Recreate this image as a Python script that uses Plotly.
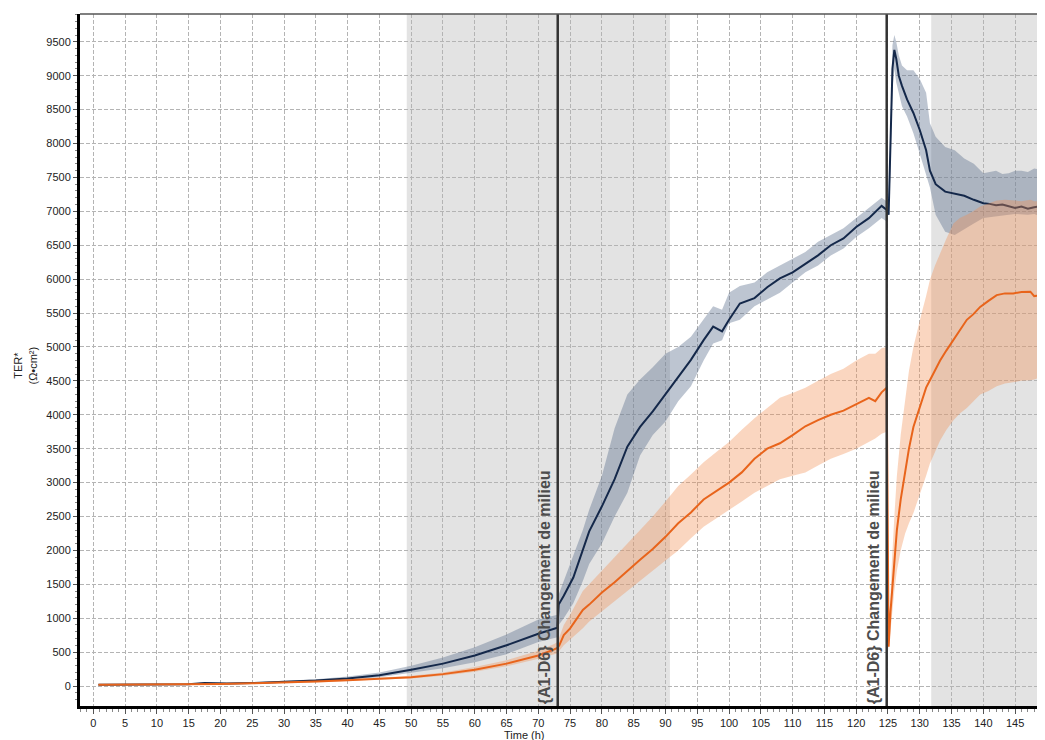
import plotly.graph_objects as go

# ---------------- data ----------------
# Navy series, before second medium change
blue_t1 = [0.8, 5, 10, 15, 17.5, 21, 25, 30, 35, 40, 45, 50, 55, 60, 65, 70, 73.0, 73.2, 74, 75.5, 77, 78, 80, 82,
           84, 86, 88, 90, 92, 94, 96, 97.5, 98.9, 100, 101.7, 104, 106, 108, 110, 112, 114, 116, 118, 120, 122,
           124, 124.8]
blue_m1 = [20, 20, 20, 25, 45, 35, 45, 60, 80, 110, 160, 240, 330, 450, 600, 770, 860, 1200, 1330, 1600, 2000,
           2280, 2650, 3050, 3530, 3820, 4050, 4300, 4560, 4810, 5100, 5300, 5230, 5400, 5640, 5720, 5880, 6010,
           6100, 6230, 6350, 6500, 6600, 6770, 6900, 7080, 7020]
blue_lo1 = [15, 15, 15, 18, 30, 30, 38, 50, 68, 90, 130, 190, 260, 350, 470, 650, 720, 900, 1000, 1220, 1550,
            1800, 2100, 2500, 2850, 3400, 3700, 3900, 4200, 4420, 4800, 5050, 5100, 5350, 5400, 5600, 5700, 5800,
            5950, 6100, 6200, 6350, 6450, 6620, 6750, 6900, 6850]
blue_hi1 = [25, 25, 25, 32, 55, 48, 55, 75, 100, 140, 200, 300, 420, 570, 760, 980, 1050, 1350, 1550, 1900, 2300,
            2600, 3100, 3800, 4300, 4520, 4700, 4900, 5000, 5150, 5400, 5600, 5550, 5800, 5900, 5950, 6100, 6200,
            6300, 6400, 6550, 6650, 6750, 6900, 7050, 7200, 7150]

# Navy series, after second medium change
blue_t2 = [125.1, 125.4, 125.7, 126.0, 126.3, 126.7, 127.2, 128.0, 129.0, 130.0, 131.0, 131.6, 132.5, 134.0,
           135.5, 137.0, 138.5, 140.0, 141.0, 142.0, 143.0, 144.0, 145.0, 146.0, 147.0, 148.0, 149.0, 149.7]
blue_m2 = [6950, 8000, 9100, 9380, 9250, 9000, 8850, 8650, 8450, 8200, 7900, 7600, 7400, 7290, 7260, 7230, 7170,
           7120, 7110, 7090, 7100, 7070, 7050, 7070, 7040, 7060, 7080, 7050]
blue_lo2 = [6900, 7600, 8800, 9100, 8900, 8750, 8550, 8400, 8150, 7850, 7550, 7350, 6950, 6700, 6650, 6740, 6820,
            6900, 6920, 6930, 6940, 6950, 6960, 6960, 6950, 6960, 6920, 6900]
blue_hi2 = [7050, 8400, 9450, 9600, 9500, 9300, 9150, 9080, 9080, 8950, 8750, 8300, 8100, 7950, 7900, 7780, 7700,
            7560, 7580, 7600, 7550, 7560, 7600, 7600, 7580, 7630, 7620, 7620]

# Orange series, before second medium change
orange_t1 = [0.8, 5, 10, 15, 20, 25, 30, 35, 40, 45, 50, 55, 60, 65, 70, 72.5, 73.0, 73.3, 74, 75, 77, 78, 80,
             82, 84, 86, 88, 90, 92, 94, 96, 98, 100, 102, 104, 106, 108, 110, 112, 114, 116, 118, 120, 122, 123,
             124, 124.8]
orange_m1 = [20, 20, 20, 25, 30, 40, 50, 65, 85, 110, 130, 175, 240, 330, 450, 540, 560, 600, 750, 850, 1120,
             1200, 1380, 1530, 1700, 1860, 2020, 2200, 2400, 2560, 2750, 2880, 3000, 3150, 3350, 3500, 3580, 3700,
             3830, 3920, 4000, 4060, 4150, 4250, 4200, 4330, 4400]
orange_lo1 = [15, 15, 15, 18, 22, 30, 40, 52, 70, 95, 110, 150, 210, 290, 400, 470, 480, 520, 600, 680, 850, 950,
              1100, 1250, 1400, 1550, 1700, 1850, 2000, 2180, 2350, 2480, 2600, 2720, 2850, 2950, 3050, 3100, 3150,
              3250, 3350, 3420, 3500, 3600, 3650, 3720, 3750]
orange_hi1 = [25, 25, 25, 32, 38, 50, 60, 78, 100, 125, 150, 200, 280, 380, 520, 620, 650, 720, 900, 1050, 1400,
              1500, 1700, 1900, 2100, 2300, 2500, 2720, 2950, 3120, 3300, 3450, 3600, 3780, 3950, 4100, 4250, 4320,
              4400, 4500, 4600, 4680, 4800, 4900, 4900, 4980, 5000]

# Orange series, after second medium change
orange_t2 = [125.1, 125.4, 125.6, 126.0, 126.4, 127.0, 127.7, 128.3, 129.0, 129.6, 130.3, 131.0, 131.6, 132.4,
             133.2, 134.2, 135.3, 136.3, 137.4, 138.4, 139.5, 140.8, 142.1, 143.4, 144.7, 146.0, 147.4, 148.0,
             149.0, 149.7]
orange_m2 = [580, 1100, 1370, 1900, 2300, 2750, 3140, 3500, 3820, 4000, 4220, 4400, 4510, 4650, 4800, 4950, 5100,
             5250, 5400, 5480, 5590, 5680, 5765, 5790, 5790, 5810, 5815, 5750, 5765, 5760]
orange_lo2 = [520, 800, 1050, 1400, 1700, 2000, 2250, 2400, 2550, 2700, 2900, 3100, 3280, 3450, 3620, 3780, 3920,
              4020, 4100, 4200, 4300, 4350, 4420, 4460, 4480, 4500, 4510, 4520, 4550, 4560]
orange_hi2 = [680, 1500, 1800, 2500, 3100, 3700, 4200, 4650, 5000, 5250, 5500, 5750, 5990, 6200, 6380, 6600, 6820,
              6900, 6950, 7000, 7070, 7120, 7160, 7170, 7160, 7150, 7170, 7150, 7150, 7150]

change_times = [73.05, 124.8]
change_label = "{A1-D6} Changement de milieu"
shade_ranges = [(49.3, 90.7), (131.8, 152.0)]

x_ticks = list(range(0, 150, 5))
y_ticks = list(range(0, 10000, 500))

# ---------------- figure ----------------
NAVY = "#14284a"
ORANGE = "#e8641b"
BLUE_BAND = "rgba(90,110,140,0.40)"
ORANGE_BAND = "rgba(240,140,80,0.36)"
FONT = "Liberation Sans, Arial"


def band(t, lo, hi, color):
    return go.Scatter(x=list(t) + list(t)[::-1], y=list(hi) + list(lo)[::-1], fill="toself",
                      fillcolor=color, line=dict(width=0), mode="lines", hoverinfo="skip", showlegend=False)


fig = go.Figure()
fig.add_trace(band(blue_t1, blue_lo1, blue_hi1, BLUE_BAND))
fig.add_trace(band(blue_t2, blue_lo2, blue_hi2, BLUE_BAND))
fig.add_trace(go.Scatter(x=blue_t1 + blue_t2, y=blue_m1 + blue_m2, mode="lines",
                         line=dict(color=NAVY, width=2), showlegend=False))
fig.add_trace(band(orange_t1, orange_lo1, orange_hi1, ORANGE_BAND))
fig.add_trace(band(orange_t2, orange_lo2, orange_hi2, ORANGE_BAND))
fig.add_trace(go.Scatter(x=orange_t1 + orange_t2, y=orange_m1 + orange_m2, mode="lines",
                         line=dict(color=ORANGE, width=2), showlegend=False))

for a, b in shade_ranges:
    fig.add_shape(type="rect", xref="x", yref="paper", x0=a, x1=b, y0=0, y1=1,
                  fillcolor="#e3e3e3", line=dict(width=0), layer="below")

for ct in change_times:
    fig.add_shape(type="line", xref="x", yref="paper", x0=ct, x1=ct, y0=0, y1=1,
                  line=dict(color="#333333", width=2.5), layer="above")
    fig.add_annotation(x=ct, xref="x", y=0, yref="paper", xanchor="right", yanchor="bottom",
                       text="<b>" + change_label + "</b>", textangle=-90, showarrow=False,
                       font=dict(family=FONT, size=16, color="#4d4d4d"),
                       xshift=-3, yshift=0)

# top border
fig.add_shape(type="line", xref="paper", yref="paper", x0=0, x1=1, y0=1, y1=1,
              line=dict(color="#555555", width=1.5), layer="above")

fig.add_annotation(text="TER*<br>(Ω•cm²)", xref="paper", yref="paper", x=0, y=0.492,
                   xanchor="right", yanchor="middle", xshift=-40, textangle=-90, showarrow=False,
                   font=dict(family=FONT, size=11, color="#222222"))
fig.add_annotation(text="Time (h)", xref="paper", yref="paper", x=0.461, y=0, xanchor="center",
                   yanchor="top", yshift=-21, showarrow=False,
                   font=dict(family=FONT, size=11, color="#222222"))

tickfont = dict(family=FONT, size=11, color="#222222")
fig.update_xaxes(range=[-2.1, 149.7], tickvals=x_ticks, showgrid=True, gridcolor="#b4b4b4", gridwidth=1,
                 griddash="4px,2px", zeroline=False, showline=True, linecolor="#000000", linewidth=3,
                 ticks="outside", ticklen=5, tickwidth=1, tickcolor="#555555", tickfont=tickfont,
                 minor=dict(dtick=1, ticks="outside", ticklen=3, tickcolor="#888888", showgrid=False))
fig.update_yaxes(range=[-295, 9910], tickvals=y_ticks, showgrid=True, gridcolor="#b4b4b4", gridwidth=1,
                 griddash="4px,2px", zeroline=False, showline=True, linecolor="#000000", linewidth=3,
                 ticks="outside", ticklen=4, tickwidth=1, tickcolor="#555555", tickfont=tickfont,
                 minor=dict(dtick=100, ticks="outside", ticklen=2, tickcolor="#888888", showgrid=False))

# the page body adds an 8px offset; compensate so the plot area sits where the reference's does
fig.update_layout(width=1037, height=732, margin=dict(l=72, r=0, t=6, b=34),
                  paper_bgcolor="white", plot_bgcolor="white", showlegend=False)

fig.write_html("out.html")
